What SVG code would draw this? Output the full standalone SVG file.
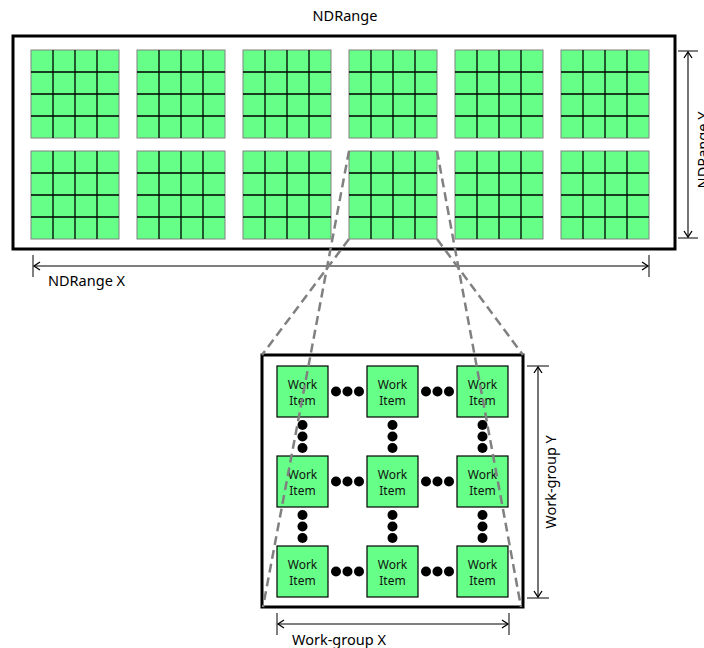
<svg xmlns="http://www.w3.org/2000/svg" xmlns:xlink="http://www.w3.org/1999/xlink" width="704" height="648" viewBox="0 0 704 648">
  <style>
    .frame { fill: #ffffff; stroke: #000000; stroke-width: 3; }
    .cellbox { fill: #66ff88; stroke: #808080; stroke-width: 1; }
    .cellline { stroke: #000000; stroke-width: 1.3; }
    .item { fill: #66ff88; stroke: #000000; stroke-width: 1.2; }
    .itemtext { font-family: "Noto Sans", "Open Sans", sans-serif; font-size: 12px; fill: #111111; text-anchor: middle; }
    .label { font-family: "Noto Sans", "Open Sans", sans-serif; font-size: 14.5px; fill: #000000; }
    .dim { stroke: #000000; stroke-width: 1.1; fill: none; }
    .tick { stroke: #000000; stroke-width: 1; }
    .zoomline { stroke: #808080; stroke-width: 2.5; stroke-dasharray: 9 5; fill: none; }
    .dot { fill: #000000; }
  </style>
  <defs>
    <marker id="chev" viewBox="-8 -5 10 10" markerWidth="10" markerHeight="10" refX="0" refY="0" orient="auto-start-reverse" markerUnits="userSpaceOnUse">
      <path d="M-6,-4 L0,0 L-6,4" fill="none" stroke="#000000" stroke-width="1.3"/>
    </marker>
    <!-- 4x4 work-group tile -->
    <g id="tile">
      <rect class="cellbox" x="0" y="0" width="88" height="88"/>
      <path class="cellline" d="M22,0V88M44,0V88M66,0V88M0,22H88M0,44H88M0,66H88"/>
    </g>
    <!-- one work item -->
    <g id="item">
      <rect class="item" x="0" y="0" width="51" height="51"/>
      <text class="itemtext" x="25.5" y="23">Work</text>
      <text class="itemtext" x="25.5" y="39">Item</text>
    </g>
    <g id="hdots">
      <circle class="dot" cx="0" cy="0" r="5"/>
      <circle class="dot" cx="11.5" cy="0" r="5"/>
      <circle class="dot" cx="23" cy="0" r="5"/>
    </g>
    <g id="vdots">
      <circle class="dot" cx="0" cy="0" r="5"/>
      <circle class="dot" cx="0" cy="11.5" r="5"/>
      <circle class="dot" cx="0" cy="23" r="5"/>
    </g>
  </defs>

  <!-- NDRange -->
  <g id="ndrange">
    <text class="label" x="345" y="21" text-anchor="middle">NDRange</text>
    <rect class="frame" x="13" y="36" width="662" height="213"/>
  </g>
  <g id="workgroups">
    <g id="wg-0-0"><use xlink:href="#tile" x="31" y="50"/></g>
    <g id="wg-1-0"><use xlink:href="#tile" x="137" y="50"/></g>
    <g id="wg-2-0"><use xlink:href="#tile" x="243" y="50"/></g>
    <g id="wg-3-0"><use xlink:href="#tile" x="349" y="50"/></g>
    <g id="wg-4-0"><use xlink:href="#tile" x="455" y="50"/></g>
    <g id="wg-5-0"><use xlink:href="#tile" x="561" y="50"/></g>
    <g id="wg-0-1"><use xlink:href="#tile" x="31" y="151"/></g>
    <g id="wg-1-1"><use xlink:href="#tile" x="137" y="151"/></g>
    <g id="wg-2-1"><use xlink:href="#tile" x="243" y="151"/></g>
    <g id="wg-3-1"><use xlink:href="#tile" x="349" y="151"/></g>
    <g id="wg-4-1"><use xlink:href="#tile" x="455" y="151"/></g>
    <g id="wg-5-1"><use xlink:href="#tile" x="561" y="151"/></g>
  </g>

  <!-- NDRange dimensions -->
  <g id="ndrange-x">
    <line class="tick" x1="33" y1="255" x2="33" y2="277"/>
    <line class="tick" x1="649" y1="255" x2="649" y2="277"/>
    <line class="dim" x1="34" y1="266" x2="648" y2="266" marker-start="url(#chev)" marker-end="url(#chev)"/>
    <text class="label" x="48" y="286">NDRange X</text>
  </g>
  <g id="ndrange-y">
    <line class="tick" x1="678" y1="51" x2="698" y2="51"/>
    <line class="tick" x1="678" y1="238" x2="698" y2="238"/>
    <line class="dim" x1="688" y1="52" x2="688" y2="237" marker-start="url(#chev)" marker-end="url(#chev)"/>
    <text class="label" transform="translate(708,150) rotate(-90)" text-anchor="middle">NDRange Y</text>
  </g>

  <!-- Expanded work-group -->
  <g id="workgroup">
    <rect class="frame" x="262" y="355" width="261" height="252" stroke-width="2.5"/>
  </g>
  <g id="items">
    <g id="wi-0-0"><use xlink:href="#item" x="277" y="366"/></g>
    <g id="wi-1-0"><use xlink:href="#item" x="367" y="366"/></g>
    <g id="wi-2-0"><use xlink:href="#item" x="457" y="366"/></g>
    <g id="wi-0-1"><use xlink:href="#item" x="277" y="456"/></g>
    <g id="wi-1-1"><use xlink:href="#item" x="367" y="456"/></g>
    <g id="wi-2-1"><use xlink:href="#item" x="457" y="456"/></g>
    <g id="wi-0-2"><use xlink:href="#item" x="277" y="546"/></g>
    <g id="wi-1-2"><use xlink:href="#item" x="367" y="546"/></g>
    <g id="wi-2-2"><use xlink:href="#item" x="457" y="546"/></g>
  </g>
  <g id="ellipses">
    <use xlink:href="#hdots" x="336" y="391.5"/>
    <use xlink:href="#hdots" x="426" y="391.5"/>
    <use xlink:href="#hdots" x="336" y="481.5"/>
    <use xlink:href="#hdots" x="426" y="481.5"/>
    <use xlink:href="#hdots" x="336" y="571.5"/>
    <use xlink:href="#hdots" x="426" y="571.5"/>
    <use xlink:href="#vdots" x="302.5" y="425"/>
    <use xlink:href="#vdots" x="392.5" y="425"/>
    <use xlink:href="#vdots" x="482.5" y="425"/>
    <use xlink:href="#vdots" x="302.5" y="515"/>
    <use xlink:href="#vdots" x="392.5" y="515"/>
    <use xlink:href="#vdots" x="482.5" y="515"/>
  </g>

  <!-- Work-group dimensions -->
  <g id="workgroup-x">
    <line class="tick" x1="277" y1="613" x2="277" y2="635"/>
    <line class="tick" x1="509" y1="613" x2="509" y2="635"/>
    <line class="dim" x1="278" y1="624" x2="508" y2="624" marker-start="url(#chev)" marker-end="url(#chev)"/>
    <text class="label" x="292" y="645">Work-group X</text>
  </g>
  <g id="workgroup-y">
    <line class="tick" x1="527" y1="366" x2="549" y2="366"/>
    <line class="tick" x1="527" y1="598" x2="549" y2="598"/>
    <line class="dim" x1="538" y1="367" x2="538" y2="597" marker-start="url(#chev)" marker-end="url(#chev)"/>
    <text class="label" transform="translate(556,482) rotate(-90)" text-anchor="middle">Work-group Y</text>
  </g>

  <!-- Connectors: projection of one work-group onto its expanded view -->
  <g id="connectors">
    <line class="zoomline" x1="349" y1="151" x2="263" y2="607"/>
    <line class="zoomline" x1="349" y1="239" x2="262" y2="355"/>
    <line class="zoomline" x1="437" y1="151" x2="521" y2="607"/>
    <line class="zoomline" x1="437" y1="239" x2="523" y2="355"/>
  </g>
</svg>
